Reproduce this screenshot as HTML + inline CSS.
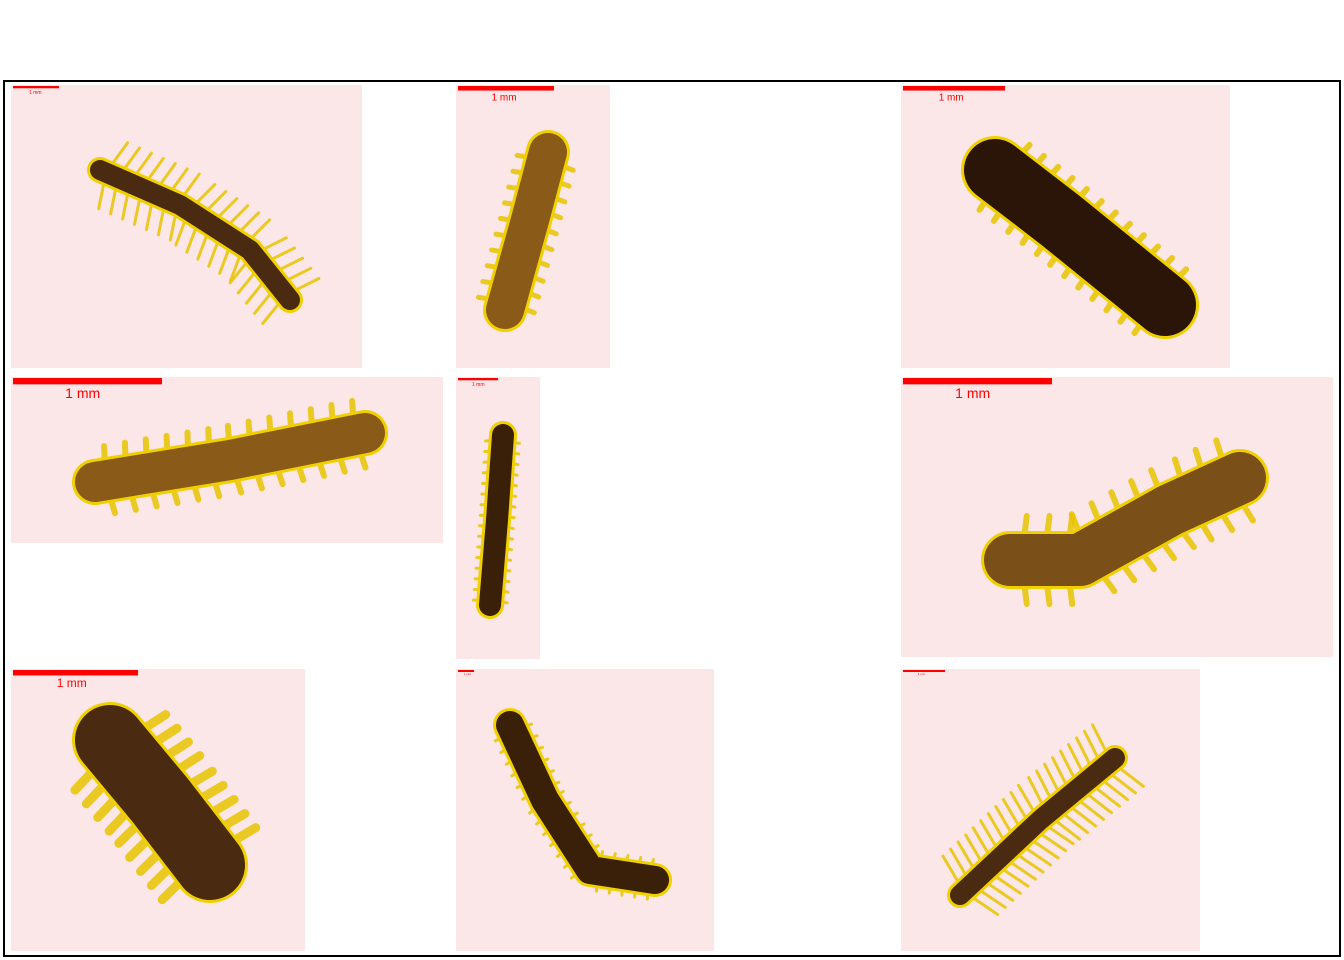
<!DOCTYPE html>
<html><head><meta charset="utf-8"><style>
html,body{margin:0;padding:0;background:#fff;}
svg{display:block;font-family:"Liberation Sans",sans-serif;}
</style></head><body>
<svg id="s" width="1344" height="960" viewBox="0 0 1344 960">
<rect x="4" y="81" width="1336" height="875" fill="none" stroke="#000" stroke-width="2"/>
<g id="panels"></g>
</svg>
<script>
const ns='http://www.w3.org/2000/svg';
const g=document.getElementById('panels');
function el(t,a,p){const e=document.createElementNS(ns,t);for(const k in a)e.setAttribute(k,a[k]);(p||g).appendChild(e);return e;}
const panels=[
[11,85,351,283,46,5],[456,85,154,283,96,10],[901,85,329,283,102,10],
[11,377,432,166,149,14],[456,377,84,282,40,5],[901,377,432,280,149,14],
[11,669,294,282,125,12],[456,669,258,282,16,3],[901,669,299,282,42,3]];
// points, body width, leg length, leg count, color, leg width
const worms=[
[[[100,170],[180,205],[250,250],[290,300]],20,26,18,'#4a2a10',3],
[[[548,152],[530,220],[505,310]],38,10,10,'#8a5a18',5],
[[[995,170],[1060,220],[1165,305]],62,10,12,'#2a1508',6],
[[[95,482],[230,460],[365,433]],40,14,13,'#8a5a18',6],
[[[503,435],[497,520],[490,605]],22,6,16,'#3a2008',3],
[[[1010,560],[1080,560],[1170,510],[1240,478]],52,18,11,'#7a5018',6],
[[[110,740],[160,800],[210,865]],70,24,9,'#4a2a10',9],
[[[510,725],[545,800],[590,870],[655,880]],28,6,18,'#3a2008',3],
[[[960,895],[1040,820],[1115,758]],20,30,20,'#4a2a10',3]];
panels.forEach((p,i)=>{
 const grp=el('g',{});
 
 
 const r=el('rect',{x:p[0],y:p[1],width:p[2],height:p[3],fill:'#fbe7e8'},grp);
 
 
 const b=el('rect',{x:p[0]+2,y:p[1]+1,width:p[4],height:Math.max(2,p[5]/2.2),fill:'#f00'},grp);
 
 
 const t=el('text',{x:p[0]+2+p[4]*0.35,y:p[1]+p[5]*1.35+2,fill:'#f00','font-size':p[5]},grp);
 t.textContent='1 mm';
 
 
 const w=worms[i];const pts=w[0];
 const d='M'+pts.map(q=>q.join(',')).join(' L');
 const wg=el('g',{},grp);
 
 
 const segs=[];let tot=0;
 for(let k=1;k<pts.length;k++){const dx=pts[k][0]-pts[k-1][0],dy=pts[k][1]-pts[k-1][1];const L=Math.hypot(dx,dy);segs.push([pts[k-1],dx/L,dy/L,L]);tot+=L;}
 for(let n=0;n<w[3];n++){
  let s=(n+0.5)/w[3]*tot;let j=0;while(j<segs.length-1&&s>segs[j][3]){s-=segs[j][3];j++;}
  const [o,ux,uy]=segs[j];const cx=o[0]+ux*s,cy=o[1]+uy*s;
  [1,-1].forEach(sg=>{
   const nx=-uy*sg,ny=ux*sg,rr=w[1]/2+w[2];
   const ln=el('line',{x1:cx,y1:cy,x2:cx+nx*rr+ux*w[2]*0.3,y2:cy+ny*rr+uy*w[2]*0.3,stroke:'#e8c400','stroke-width':w[5],'stroke-linecap':'round',opacity:0.85},wg);
   
   
  });
 }
 const o=el('path',{d:d,fill:'none',stroke:'#f0d000','stroke-width':w[1]+6,'stroke-linecap':'round','stroke-linejoin':'round'},wg);
 
 
 const bd=el('path',{d:d,fill:'none',stroke:w[4],'stroke-width':w[1],'stroke-linecap':'round','stroke-linejoin':'round'},wg);
 
 
});
</script>
</body></html>
